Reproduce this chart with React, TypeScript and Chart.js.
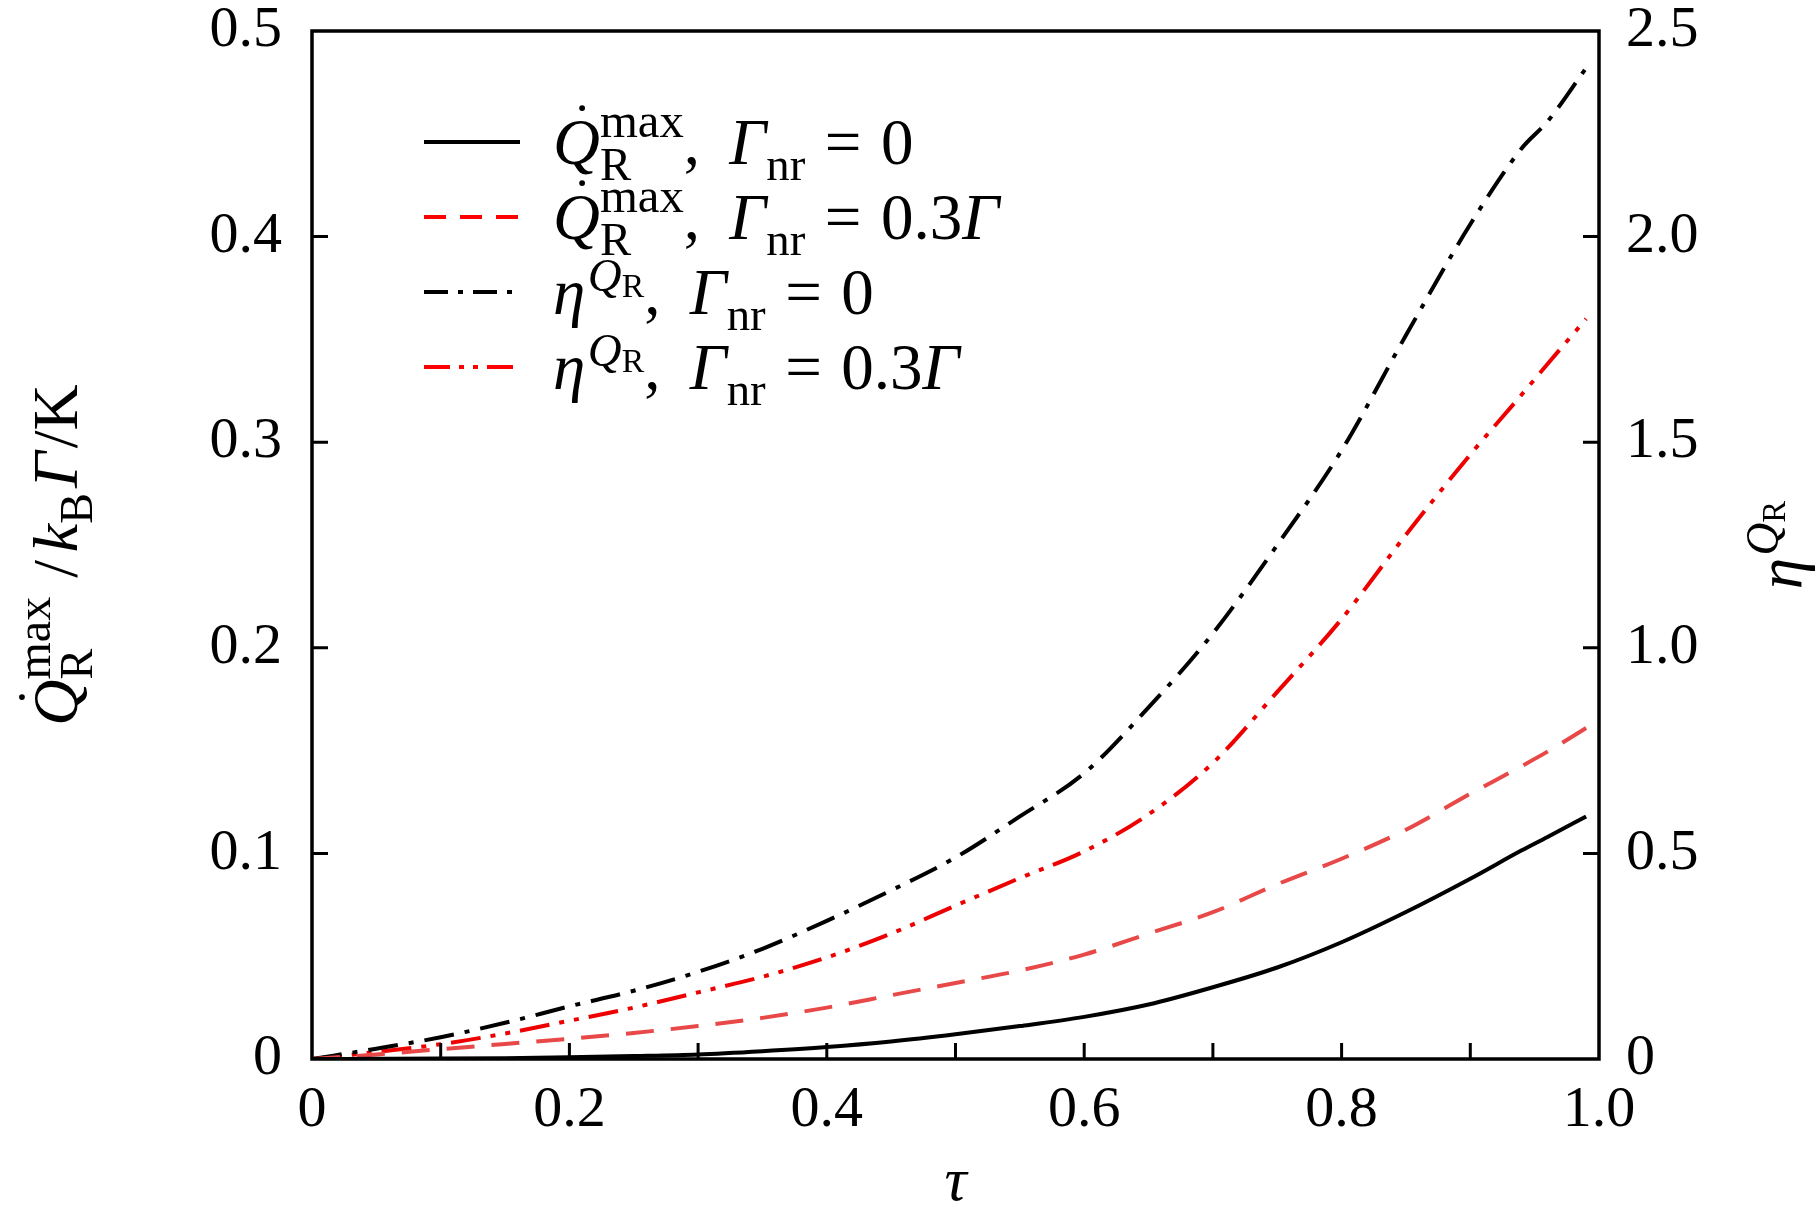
import React, { useEffect, useRef } from "react";
import { Chart, registerables } from "chart.js";

Chart.register(...registerables);

// tau values and the four curves
const tau = [0, 0.05, 0.1, 0.15, 0.2, 0.25, 0.3, 0.35, 0.4, 0.45, 0.5, 0.55, 0.6, 0.65, 0.7, 0.75, 0.8, 0.85, 0.9, 0.94, 0.96, 0.99];
const qMaxG0 = [0, 0.0001, 0.0002, 0.0004, 0.0008, 0.0014, 0.0022, 0.0038, 0.0058, 0.0085, 0.012, 0.016, 0.0205, 0.0265, 0.0349, 0.0445, 0.0568, 0.0715, 0.0877, 0.1015, 0.108, 0.118];
const qMaxG03 = [0, 0.0022, 0.0048, 0.0073, 0.0098, 0.0127, 0.016, 0.02, 0.025, 0.031, 0.037, 0.043, 0.0508, 0.061, 0.0714, 0.085, 0.0974, 0.1115, 0.129, 0.1425, 0.1495, 0.161];
const etaG0 = [0, 0.025, 0.053, 0.088, 0.128, 0.166, 0.212, 0.268, 0.336, 0.41, 0.49, 0.59, 0.695, 0.855, 1.035, 1.25, 1.48, 1.76, 2.03, 2.215, 2.28, 2.41];
const etaG03 = [0, 0.017, 0.036, 0.062, 0.093, 0.125, 0.162, 0.2, 0.247, 0.305, 0.373, 0.44, 0.505, 0.595, 0.72, 0.893, 1.07, 1.275, 1.47, 1.616, 1.69, 1.8];

const xTicks = [0, 0.1, 0.2, 0.3, 0.4, 0.5, 0.6, 0.7, 0.8, 0.9, 1.0];
const yTicks = [0, 0.1, 0.2, 0.3, 0.4, 0.5];
const y2Ticks = [0, 0.5, 1.0, 1.5, 2.0, 2.5];

const FONT = '"Liberation Serif", "DejaVu Serif", serif';

type Seg = { t?: string; gap?: number; it?: boolean; s?: number; dy?: number; stack?: boolean; dot?: boolean };

const qDot: Seg[] = [
  { t: "Q", it: true, dot: true },
  { t: "R", s: 0.72, dy: 0.24 },
  { t: "max", s: 0.75, dy: -0.42, stack: true },
];
const etaQ: Seg[] = [
  { t: "η", it: true },
  { gap: 0.04 },
  { t: "Q", it: true, s: 0.72, dy: -0.36 },
  { t: "R", s: 0.52, dy: -0.26 },
];
const gammaNr: Seg[] = [{ t: "Γ", it: true }, { t: "nr", s: 0.72, dy: 0.24 }];
const comma: Seg[] = [{ t: "," }, { gap: 0.45 }];
const equals: Seg[] = [{ gap: 0.3 }, { t: "=" }, { gap: 0.3 }];

const legendItems = [
  { segs: [...qDot, ...comma, ...gammaNr, ...equals, { t: "0" }], color: "#000", dash: [] as number[] },
  { segs: [...qDot, ...comma, ...gammaNr, ...equals, { t: "0.3" }, { t: "Γ", it: true }], color: "#f00", dash: [22, 14] },
  { segs: [...etaQ, ...comma, ...gammaNr, ...equals, { t: "0" }], color: "#000", dash: [24, 10, 5, 10] },
  { segs: [...etaQ, ...comma, ...gammaNr, ...equals, { t: "0.3" }, { t: "Γ", it: true }], color: "#f00", dash: [26, 9, 5, 9, 5, 9] },
];

const yTitle: Seg[] = [
  ...qDot,
  { gap: 0.3 },
  { t: "/" },
  { gap: 0.12 },
  { t: "k", it: true },
  { t: "B", s: 0.72, dy: 0.24 },
  { gap: 0.08 },
  { t: "Γ", it: true },
  { gap: 0.05 },
  { t: "/" },
  { t: "K" },
];

function drawRich(ctx: CanvasRenderingContext2D, segs: Seg[], x: number, y: number, size: number, draw = true) {
  let cx = x;
  let lastStart = x;
  let lastW = 0;
  for (const seg of segs) {
    if (seg.gap !== undefined) {
      cx += seg.gap * size;
      continue;
    }
    const s = size * (seg.s ?? 1);
    ctx.font = `${seg.it ? "italic " : ""}${s}px ${FONT}`;
    const t = seg.t ?? "";
    const w = ctx.measureText(t).width;
    const sx = seg.stack ? lastStart : cx;
    if (draw) {
      ctx.fillText(t, sx, y + (seg.dy ?? 0) * size);
      if (seg.dot) {
        ctx.beginPath();
        ctx.arc(sx + w * 0.62, y - size * 0.86, size * 0.045, 0, Math.PI * 2);
        ctx.fill();
      }
    }
    if (seg.stack) {
      cx = Math.max(lastStart + lastW, sx + w);
    } else {
      lastStart = sx;
      lastW = w;
      cx = sx + w;
    }
  }
  return cx - x;
}

const decorPlugin = {
  id: "decor",
  afterDraw(chart: any) {
    const ctx: CanvasRenderingContext2D = chart.ctx;
    const { left, right, top, bottom } = chart.chartArea;
    const xs = chart.scales.x;
    const ys = chart.scales.y;
    const y2s = chart.scales.y2;
    ctx.save();
    ctx.strokeStyle = "#000";
    ctx.fillStyle = "#000";
    ctx.setLineDash([]);
    // inward ticks
    ctx.lineWidth = 3;
    const tl = 16;
    ctx.beginPath();
    xTicks.slice(1, -1).forEach((v) => {
      const px = xs.getPixelForValue(v);
      ctx.moveTo(px, bottom);
      ctx.lineTo(px, bottom - tl);
    });
    yTicks.slice(1, -1).forEach((v) => {
      const py = ys.getPixelForValue(v);
      ctx.moveTo(left, py);
      ctx.lineTo(left + tl, py);
    });
    y2Ticks.slice(1, -1).forEach((v) => {
      const py = y2s.getPixelForValue(v);
      ctx.moveTo(right, py);
      ctx.lineTo(right - tl, py);
    });
    ctx.stroke();
    // frame
    ctx.lineWidth = 3.5;
    ctx.strokeRect(left, top, right - left, bottom - top);

    // legend
    ctx.textBaseline = "alphabetic";
    ctx.textAlign = "left";
    legendItems.forEach((it, i) => {
      const ly = top + 111 + i * 75;
      ctx.strokeStyle = it.color;
      ctx.lineWidth = 4;
      ctx.setLineDash(it.dash);
      ctx.beginPath();
      ctx.moveTo(left + 112, ly);
      ctx.lineTo(left + 208, ly);
      ctx.stroke();
      ctx.fillStyle = "#000";
      drawRich(ctx, it.segs, left + 241, ly + 22, 65);
    });
    ctx.setLineDash([]);

    // x title
    ctx.font = `italic 62px ${FONT}`;
    ctx.textAlign = "center";
    ctx.fillText("τ", (left + right) / 2, 1200);
    ctx.textAlign = "left";

    // left title, rotated
    const cy = (top + bottom) / 2;
    ctx.save();
    ctx.translate(77, cy + 10);
    ctx.rotate(-Math.PI / 2);
    const w1 = drawRich(ctx, yTitle, 0, 0, 64, false);
    drawRich(ctx, yTitle, -w1 / 2, 0, 64);
    ctx.restore();

    // right title, rotated
    ctx.save();
    ctx.translate(1801, cy);
    ctx.rotate(-Math.PI / 2);
    const w2 = drawRich(ctx, etaQ, 0, 0, 63, false);
    drawRich(ctx, etaQ, -w2 / 2, 0, 63);
    ctx.restore();

    ctx.restore();
  },
};

const pts = (ys: number[]) => tau.map((t, i) => ({ x: t, y: ys[i] }));

const App: React.FC = () => {
  const canvasRef = useRef<HTMLCanvasElement>(null);
  const chartRef = useRef<Chart | null>(null);

  useEffect(() => {
    const ctx = canvasRef.current?.getContext("2d");
    if (!ctx) return;
    chartRef.current?.destroy();

    // tiny lineHeight on the y axes so their labels do not push the plot area down
    const yFont = { family: FONT, size: 58, lineHeight: 0.01 };
    const xFont = { family: FONT, size: 58, lineHeight: 1 };

    chartRef.current = new Chart(ctx, {
      type: "line",
      data: {
        datasets: [
          { data: pts(qMaxG0), yAxisID: "y", borderColor: "#000", borderWidth: 4 },
          { data: pts(qMaxG03), yAxisID: "y", borderColor: "#e84848", borderWidth: 4, borderDash: [28, 17] },
          { data: pts(etaG0), yAxisID: "y2", borderColor: "#000", borderWidth: 4, borderDash: [30, 11, 5, 11] },
          { data: pts(etaG03), yAxisID: "y2", borderColor: "#ee0000", borderWidth: 4, borderDash: [30, 10, 5, 10, 5, 10] },
        ],
      },
      options: {
        animation: false,
        responsive: true,
        maintainAspectRatio: false,
        layout: { padding: { top: 31, left: 0, right: 0, bottom: 0 } },
        elements: {
          point: { radius: 0 },
          line: { cubicInterpolationMode: "monotone", fill: false },
        },
        plugins: { legend: { display: false }, tooltip: { enabled: false } },
        scales: {
          x: {
            type: "linear",
            min: 0,
            max: 1,
            grid: { display: false, drawTicks: false },
            border: { display: false },
            afterBuildTicks: (s: any) => {
              s.ticks = xTicks.map((v) => ({ value: v }));
            },
            afterFit: (s: any) => {
              s.height = 158;
            },
            ticks: {
              autoSkip: false,
              maxRotation: 0,
              padding: 23,
              color: "#000",
              font: xFont,
              callback: (v: any) => {
                const k = Math.round(Number(v) * 10);
                if (k % 2 !== 0) return "";
                return k === 0 ? "0" : (k / 10).toFixed(1);
              },
            },
          },
          y: {
            type: "linear",
            position: "left",
            min: 0,
            max: 0.5,
            grid: { display: false, drawTicks: false },
            border: { display: false },
            afterBuildTicks: (s: any) => {
              s.ticks = yTicks.map((v) => ({ value: v }));
            },
            afterFit: (s: any) => {
              s.width = 312;
            },
            ticks: {
              padding: 30,
              color: "#000",
              font: yFont,
              callback: (v: any) => (Number(v) === 0 ? "0" : Number(v).toFixed(1)),
            },
          },
          y2: {
            type: "linear",
            position: "right",
            min: 0,
            max: 2.5,
            grid: { display: false, drawTicks: false },
            border: { display: false },
            afterBuildTicks: (s: any) => {
              s.ticks = y2Ticks.map((v) => ({ value: v }));
            },
            afterFit: (s: any) => {
              s.width = 217;
            },
            ticks: {
              padding: 27,
              color: "#000",
              font: yFont,
              callback: (v: any) => (Number(v) === 0 ? "0" : Number(v).toFixed(1)),
            },
          },
        },
      },
      plugins: [decorPlugin],
    });

    return () => {
      chartRef.current?.destroy();
      chartRef.current = null;
    };
  }, []);

  return (
    <div style={{ position: "fixed", left: 0, top: 0, width: "100vw", height: "100vh", background: "#fff" }}>
      <canvas ref={canvasRef} />
    </div>
  );
};

export default App;
